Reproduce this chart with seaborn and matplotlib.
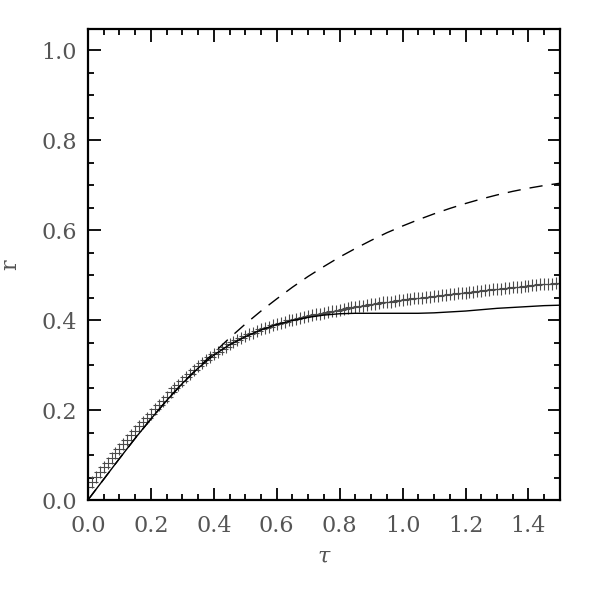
import numpy as np
import pandas as pd
import matplotlib
matplotlib.use("Agg")
import matplotlib.pyplot as plt
import seaborn as sns
from matplotlib.ticker import MultipleLocator

# ---- data ----
tau_lines = [0.00, 0.05, 0.10, 0.15, 0.20, 0.25, 0.30, 0.35, 0.40, 0.45,
             0.50, 0.55, 0.60, 0.65, 0.70, 0.75, 0.80, 0.85, 0.90, 0.95,
             1.00, 1.05, 1.10, 1.15, 1.20, 1.25, 1.30, 1.35, 1.40, 1.45, 1.50]
r_solid = [0.000, 0.046, 0.092, 0.137, 0.180, 0.221, 0.259, 0.293, 0.322, 0.345,
           0.363, 0.378, 0.390, 0.399, 0.406, 0.411, 0.414, 0.415, 0.415, 0.415,
           0.415, 0.415, 0.416, 0.418, 0.420, 0.423, 0.426, 0.428, 0.430, 0.432, 0.433]
r_dashed = [0.000, 0.046, 0.092, 0.137, 0.180, 0.221, 0.259, 0.294, 0.327, 0.360,
            0.391, 0.420, 0.447, 0.473, 0.497, 0.519, 0.540, 0.559, 0.577, 0.594,
            0.609, 0.623, 0.636, 0.648, 0.659, 0.669, 0.678, 0.686, 0.693, 0.699, 0.704]

tau_points = list(np.round(np.linspace(0.0, 1.5, 121), 4))
r_points = [0.030, 0.041, 0.052, 0.062, 0.073, 0.083, 0.094, 0.104, 0.114, 0.124,
            0.134, 0.144, 0.154, 0.164, 0.173, 0.183, 0.192, 0.202, 0.211, 0.221,
            0.230, 0.239, 0.248, 0.256, 0.265, 0.273, 0.281, 0.289, 0.297, 0.304,
            0.311, 0.318, 0.324, 0.330, 0.335, 0.341, 0.346, 0.351, 0.355, 0.360,
            0.364, 0.368, 0.372, 0.375, 0.379, 0.382, 0.385, 0.388, 0.391, 0.394,
            0.396, 0.399, 0.401, 0.403, 0.405, 0.407, 0.409, 0.411, 0.413, 0.414,
            0.416, 0.418, 0.420, 0.421, 0.423, 0.425, 0.426, 0.428, 0.429, 0.431,
            0.432, 0.434, 0.435, 0.436, 0.438, 0.439, 0.440, 0.441, 0.443, 0.444,
            0.445, 0.446, 0.447, 0.448, 0.449, 0.450, 0.451, 0.452, 0.453, 0.454,
            0.455, 0.456, 0.457, 0.458, 0.459, 0.460, 0.461, 0.462, 0.463, 0.464,
            0.465, 0.466, 0.467, 0.468, 0.469, 0.470, 0.471, 0.472, 0.473, 0.474,
            0.474, 0.475, 0.476, 0.477, 0.478, 0.479, 0.480, 0.481, 0.481, 0.482,
            0.483]

x_ticks = [0.0, 0.2, 0.4, 0.6, 0.8, 1.0, 1.2, 1.4]
x_ticklabels = ["0.0", "0.2", "0.4", "0.6", "0.8", "1.0", "1.2", "1.4"]
y_ticks = [0.0, 0.2, 0.4, 0.6, 0.8, 1.0]
y_ticklabels = ["0.0", "0.2", "0.4", "0.6", "0.8", "1.0"]

# ---- plotting ----
sns.set_theme(style="ticks")
plt.rcParams["font.family"] = ["DejaVu Serif", "DejaVu Sans"]
plt.rcParams["mathtext.fontset"] = "dejavuserif"

fig = plt.figure(figsize=(5.9, 5.9), dpi=100)
ax = fig.add_axes([0.149, 0.1525, 0.800, 0.7985])

df_lines = pd.DataFrame({"tau": tau_lines, "solid": r_solid, "dashed": r_dashed})
df_pts = pd.DataFrame({"tau": tau_points, "r": r_points})

sns.scatterplot(data=df_pts, x="tau", y="r", ax=ax, color="#4a4a4a",
                marker="+", s=70, linewidth=0.8, zorder=2)
sns.lineplot(data=df_lines, x="tau", y="solid", ax=ax, estimator=None,
             color="black", linewidth=1.0, zorder=3)
sns.lineplot(data=df_lines, x="tau", y="dashed", ax=ax, estimator=None,
             color="black", linewidth=1.0, linestyle=(0, (9.5, 6.5)), zorder=3)

ax.set_xlim(0.0, 1.5)
ax.set_ylim(0.0, 1.047)

ax.set_xticks(x_ticks)
ax.set_xticklabels(x_ticklabels)
ax.set_yticks(y_ticks)
ax.set_yticklabels(y_ticklabels)
ax.xaxis.set_minor_locator(MultipleLocator(0.05))
ax.yaxis.set_minor_locator(MultipleLocator(0.05))

label_color = "#555555"
ax.tick_params(which="both", direction="in", top=True, right=True,
               color="black", width=1.3)
ax.tick_params(which="major", length=9)
ax.tick_params(which="minor", length=4.5)
ax.tick_params(axis="x", which="major", labelsize=16, labelcolor=label_color, pad=11)
ax.tick_params(axis="y", which="major", labelsize=16, labelcolor=label_color, pad=8)

for sp in ax.spines.values():
    sp.set_visible(True)
    sp.set_linewidth(1.6)
    sp.set_color("black")

ax.set_xlabel(r"$\tau$", fontsize=16, color=label_color, labelpad=6)
ax.set_ylabel("r", fontsize=16, color=label_color, labelpad=14)

fig.savefig("out.png", dpi=100)
